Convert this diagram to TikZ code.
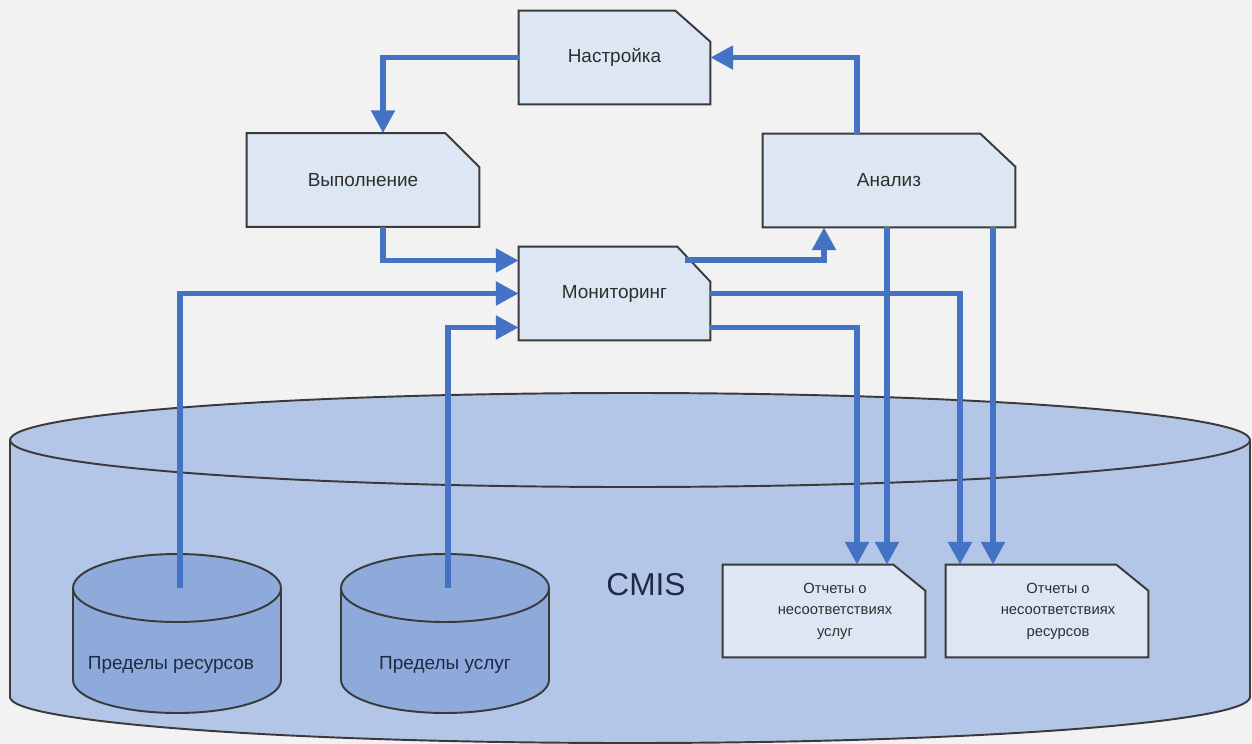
\documentclass[tikz,border=0pt]{standalone}
\usepackage{fontspec}
\setmainfont{Liberation Sans}
\usetikzlibrary{arrows.meta,calc}

\definecolor{bgc}{HTML}{F2F2F2}
\definecolor{cmisblue}{HTML}{B4C6E7}
\definecolor{limblue}{HTML}{8EAADB}
\definecolor{cardfill}{HTML}{DDE7F3}
\definecolor{edgegray}{HTML}{3A3A3A}
\definecolor{flowblue}{HTML}{4472C4}
\definecolor{txtgray}{HTML}{2E2E2E}
\definecolor{txtnavy}{HTML}{1F2A44}

\pgfdeclarelayer{back}
\pgfsetlayers{back,main}

\newcommand{\rpad}{\hspace*{0.44cm}}

\begin{document}
\begin{tikzpicture}[
    x=0.02cm, y=-0.02cm,
    font=\fontsize{10.8}{13}\selectfont,
    card/.style={minimum height=1.86cm, inner sep=0pt, align=center, text=txtgray},
    report/.style={card, minimum width=4.04cm, minimum height=1.84cm, font=\fontsize{8.4}{12.3}\selectfont},
    flow/.style={-{Triangle[length=13pt,width=13pt]}, line width=3.3pt, draw=flowblue},
    edge/.style={draw=edgegray, line width=1.1pt}
]
\begin{pgfonlayer}{back}
\fill[bgc] (0,0) rectangle (1252,744);
% CMIS store
\fill[cmisblue] (10,440) -- (10,697) arc[start angle=180, end angle=0, x radius=620, y radius=46] -- (1250,440) -- cycle;
\draw[edge] (10,440) -- (10,697) arc[start angle=180, end angle=0, x radius=620, y radius=46] -- (1250,440);
\draw[edge, fill=cmisblue] (630,440) ellipse [x radius=620, y radius=47];
% limit stores
\foreach \cx/\nm in {177/limrestop, 445/limsrvtop} {
  \fill[limblue] (\cx-104,588) -- (\cx-104,680) arc[start angle=180, end angle=0, x radius=104, y radius=33] -- (\cx+104,588) -- cycle;
  \draw[edge] (\cx-104,588) -- (\cx-104,680) arc[start angle=180, end angle=0, x radius=104, y radius=33] -- (\cx+104,588);
  \draw[edge, fill=limblue] (\cx,588) ellipse [x radius=104, y radius=34];
  \coordinate (\nm) at (\cx+3,588);
}
\end{pgfonlayer}

\node[text=txtnavy] (limres) at (171,665) {Пределы ресурсов};
\node[text=txtnavy] (limsrv) at (445,665) {Пределы услуг};
\node[font=\fontsize{18}{20}\selectfont, text=txtnavy] (cmis) at (646,585) {CMIS};

\node[card, minimum width=3.82cm] (tune) at (614.5,57.5) {Настройка};
\node[card, minimum width=4.64cm] (exec) at (363,180) {Выполнение};
\node[card, minimum width=5.04cm] (anal) at (889,180.5) {Анализ};
\node[card, minimum width=3.82cm] (mon) at (614.5,293.5) {Мониторинг};
\node[report] (repsrv) at (824,611) {\rpad Отчеты о\\\rpad несоответствиях\\\rpad услуг};
\node[report] (repres) at (1047,611) {\rpad Отчеты о\\\rpad несоответствиях\\\rpad ресурсов};

\begin{pgfonlayer}{back}
\foreach \n/\cw/\ch in {tune/35/31, exec/34/34, anal/35/33, mon/33/35, repsrv/32/26, repres/32/26}
  \draw[edge, fill=cardfill] (\n.south west) -- (\n.north west) -- ($(\n.north east)+(-\cw,0)$)
    -- ($(\n.north east)+(0,\ch)$) -- (\n.south east) -- cycle;
\end{pgfonlayer}

\coordinate (analsrv) at ($(anal.south)+(-2,0)$);
\coordinate (analres) at ($(anal.south)+(104,0)$);

% control loop
\draw[flow] (tune.west) -| ($(exec.north)+(20,0)$);
\draw[flow] ($(exec.south)+(20,0)$) |- ($(mon.west)+(0,-33)$);
\draw[flow] (limrestop) |- (mon.west);
\draw[flow] (limsrvtop) |- ($(mon.west)+(0,34)$);
\draw[flow] ($(mon.north east)+(-25,13)$) -| ($(anal.south)+(-65,0)$);
\draw[flow] ($(anal.north)+(-32,0)$) |- (tune.east);
% reports
\draw[flow] (mon.east) -| ($(repres.north)+(-87,0)$);
\draw[flow] ($(mon.east)+(0,34)$) -| ($(repsrv.north)+(33,0)$);
\draw[flow] (analsrv) -- (analsrv |- repsrv.north);
\draw[flow] (analres) -- (analres |- repres.north);
\end{tikzpicture}
\end{document}
